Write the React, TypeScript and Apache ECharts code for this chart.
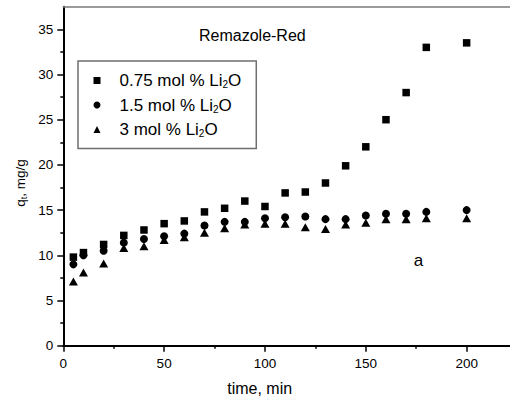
import { useEffect, useRef } from "react";
import * as echarts from "echarts";

const FONT = "'Liberation Sans', Arial, Helvetica, sans-serif";

// time, min
const times = [5, 10, 20, 30, 40, 50, 60, 70, 80, 90, 100, 110, 120, 130, 140, 150, 160, 170, 180, 200];
// q_t, mg/g
const q075 = [9.8, 10.3, 11.2, 12.2, 12.8, 13.5, 13.8, 14.8, 15.2, 16.0, 15.4, 16.9, 17.0, 18.0, 19.9, 22.0, 25.0, 28.0, 33.0, 33.5];
const q15 = [9.0, 10.0, 10.5, 11.4, 11.8, 12.1, 12.4, 13.3, 13.7, 13.7, 14.1, 14.2, 14.3, 14.0, 14.0, 14.4, 14.6, 14.6, 14.8, 15.0];
const q3 = [7.1, 8.1, 9.1, 10.8, 11.0, 11.7, 12.0, 12.5, 13.0, 13.4, 13.5, 13.5, 13.1, 12.9, 13.4, 13.6, 14.0, 14.0, 14.1, 14.1];

const seriesNames = ["0.75 mol % Li2O", "1.5 mol % Li2O", "3 mol % Li2O"];
const legendPrefixes = ["0.75 mol % Li", "1.5 mol % Li", "3 mol % Li"];

const xTicks = [0, 50, 100, 150, 200];
const xMinorTicks = [25, 75, 125, 175];
const yTicks = [0, 5, 10, 15, 20, 25, 30, 35];
const yMinorTicks = [2.5, 7.5, 12.5, 17.5, 22.5, 27.5, 32.5];

const X_MAX = 221.5;
const Y_MAX = 37.5;

export default function App() {
  const ref = useRef<HTMLDivElement>(null);
  useEffect(() => {
    const chart = echarts.init(ref.current!, null, { renderer: "svg" });
    const mk = (name: string, data: number[], symbol: string, size: any) => ({
      name,
      type: "scatter",
      xAxisIndex: 0,
      yAxisIndex: 0,
      data: times.map((t, i) => [t, data[i]]),
      symbol,
      symbolSize: size,
      itemStyle: { color: "#000", opacity: 1 },
      emphasis: { disabled: true },
    });
    const tickLabel = { color: "#000", fontFamily: FONT, fontSize: 13.5 };
    const tickLine = { color: "#000", width: 1.5 };
    chart.setOption({
      animation: false,
      backgroundColor: "#fff",
      title: {
        text: "Remazole-Red",
        left: 199,
        top: 27,
        padding: 0,
        textStyle: { fontFamily: FONT, fontSize: 16, fontWeight: "normal", color: "#000" },
      },
      grid: { left: 63.3, top: 6.7, right: 0, bottom: 52.3, containLabel: false },
      legend: {
        orient: "vertical",
        left: 78,
        top: 61,
        padding: [11, 15, 10, 15.5],
        itemGap: 7,
        itemWidth: 7,
        itemHeight: 7,
        borderColor: "#6e6e6e",
        borderWidth: 1.5,
        backgroundColor: "#fff",
        selectedMode: false,
        data: seriesNames,
        formatter: (name: string) => `{f|${legendPrefixes[seriesNames.indexOf(name)]}}{s|2}{b|O}`,
        textStyle: {
          fontFamily: FONT,
          fontSize: 17,
          color: "#000",
          rich: {
            f: { fontFamily: FONT, fontSize: 17, color: "#000", lineHeight: 18, padding: [0, 0, 0, 14] },
            s: { fontFamily: FONT, fontSize: 10, color: "#000", lineHeight: 8, verticalAlign: "bottom" },
            b: { fontFamily: FONT, fontSize: 17, color: "#000", lineHeight: 18 },
          },
        },
      },
      xAxis: [
        {
          type: "value",
          position: "bottom",
          min: 0,
          max: X_MAX,
          interval: 50,
          axisLine: { show: true, onZero: false, lineStyle: { color: "#000", width: 2 } },
          axisTick: { show: true, inside: false, length: 6, customValues: xTicks, lineStyle: tickLine },
          splitLine: { show: false },
          axisLabel: { ...tickLabel, margin: 11, customValues: xTicks },
        },
        {
          type: "value",
          position: "top",
          min: 0,
          max: X_MAX,
          interval: 50,
          axisLine: { show: true, onZero: false, lineStyle: { color: "#7a7a7a", width: 1.5 } },
          axisTick: { show: false },
          axisLabel: { show: false },
          splitLine: { show: false },
        },
        {
          type: "value",
          position: "bottom",
          offset: 0,
          min: 0,
          max: X_MAX,
          interval: 50,
          axisLine: { show: false, onZero: false },
          axisTick: { show: true, inside: false, length: 3, customValues: xMinorTicks, lineStyle: tickLine },
          axisLabel: { show: false },
          splitLine: { show: false },
        },
      ],
      yAxis: [
        {
          type: "value",
          position: "left",
          min: 0,
          max: Y_MAX,
          interval: 5,
          axisLine: { show: true, onZero: false, lineStyle: { color: "#000", width: 2 } },
          axisTick: { show: true, inside: false, length: 6, customValues: yTicks, lineStyle: tickLine },
          splitLine: { show: false },
          axisLabel: { ...tickLabel, margin: 10, customValues: yTicks },
        },
        {
          type: "value",
          position: "left",
          offset: 0,
          min: 0,
          max: Y_MAX,
          interval: 5,
          axisLine: { show: false, onZero: false },
          axisTick: { show: true, inside: false, length: 3, customValues: yMinorTicks, lineStyle: tickLine },
          axisLabel: { show: false },
          splitLine: { show: false },
        },
      ],
      graphic: [
        {
          type: "text",
          x: 20.5,
          y: 183,
          rotation: Math.PI / 2,
          style: {
            text: "{b|q}{s|t}{b|, mg/g}",
            align: "center",
            verticalAlign: "middle",
            fill: "#000",
            rich: {
              b: { fontFamily: FONT, fontSize: 13.5, fill: "#000", lineHeight: 15 },
              s: { fontFamily: FONT, fontSize: 9, fill: "#000", lineHeight: 8, verticalAlign: "bottom" },
            },
          },
        },
        {
          type: "text",
          x: 259.7,
          y: 388,
          style: { text: "time, min", align: "center", verticalAlign: "middle", fontFamily: FONT, fontSize: 16, fill: "#000" },
        },
        {
          type: "text",
          x: 418.5,
          y: 260,
          style: { text: "a", align: "center", verticalAlign: "middle", fontFamily: FONT, fontSize: 17, fill: "#000" },
        },
      ],
      series: [
        mk(seriesNames[0], q075, "rect", 7.5),
        mk(seriesNames[1], q15, "circle", 8),
        mk(seriesNames[2], q3, "triangle", [9, 8]),
      ],
    });
    return () => chart.dispose();
  }, []);
  return (
    <div
      ref={ref}
      style={{ position: "fixed", left: 0, top: 0, width: 510, height: 398, background: "#fff" }}
    />
  );
}
